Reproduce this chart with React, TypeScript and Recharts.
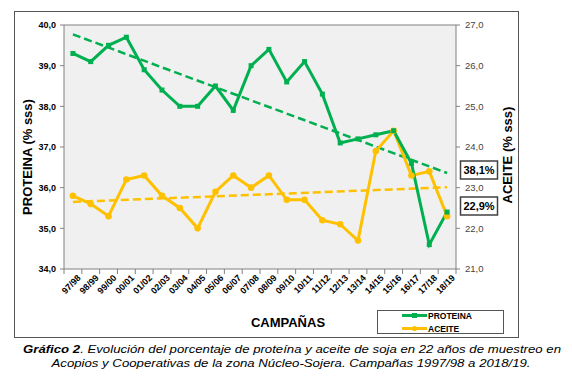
import React from 'react';
import { LineChart, Line, XAxis, YAxis, CartesianGrid, ReferenceLine } from 'recharts';

const campanias = [
  '97/98', '98/99', '99/00', '00/01', '01/02', '02/03', '03/04', '04/05', '05/06', '06/07', '07/08',
  '08/09', '09/10', '10/11', '11/12', '12/13', '13/14', '14/15', '15/16', '16/17', '17/18', '18/19',
];
const proteina = [
  39.3, 39.1, 39.5, 39.7, 38.9, 38.4, 38.0, 38.0, 38.5, 37.9, 39.0,
  39.4, 38.6, 39.1, 38.3, 37.1, 37.2, 37.3, 37.4, 36.6, 34.6, 35.4,
];
const aceite = [
  22.8, 22.6, 22.3, 23.2, 23.3, 22.8, 22.5, 22.0, 22.9, 23.3, 23.0,
  23.3, 22.7, 22.7, 22.2, 22.1, 21.7, 23.9, 24.4, 23.3, 23.4, 22.3,
];
// trend lines: value at first and last campaign
const tendenciaProteina = [39.77, 36.36];
const tendenciaAceite = [22.65, 23.01];
const ticksProteina = [34, 35, 36, 37, 38, 39, 40];
const ticksAceite = [21, 22, 23, 24, 25, 26, 27];

const VERDE = '#00b050';
const AMARILLO = '#ffc000';
const GRIS = '#808080';
const FONT = '"Liberation Sans", Arial, sans-serif';
const HALF = 392 / 22 / 2;

const last = campanias.length - 1;
const data = campanias.map((c, i) => ({
  campania: c,
  proteina: proteina[i],
  aceite: aceite[i],
  tendP: i === 0 ? tendenciaProteina[0] : i === last ? tendenciaProteina[1] : null,
  tendA: i === 0 ? tendenciaAceite[0] : i === last ? tendenciaAceite[1] : null,
}));

const fmt = (v: number) => v.toFixed(1).replace('.', ',');

const XTick = (props: any) => {
  const { x, y, payload, index } = props;
  const y0 = y - 7;
  const tx = x + 4;
  const ty = y - 2;
  return (
    <g>
      <line x1={x - HALF} x2={x - HALF} y1={y0} y2={y0 + 5} stroke={GRIS} />
      {index === last && <line x1={x + HALF} x2={x + HALF} y1={y0} y2={y0 + 5} stroke={GRIS} />}
      <text
        x={tx}
        y={ty}
        transform={`rotate(-45, ${tx}, ${ty})`}
        textAnchor="end"
        dy="0.71em"
        fontSize={9}
        fontWeight="bold"
        fontFamily={FONT}
        fill="#000"
      >
        {payload.value}
      </text>
    </g>
  );
};

const SquareDot = (props: any) => {
  const { cx, cy } = props;
  if (cx == null || cy == null) return null;
  return <rect x={cx - 2.5} y={cy - 2.5} width={5} height={5} fill={VERDE} />;
};

const RoundDot = (props: any) => {
  const { cx, cy } = props;
  if (cx == null || cy == null) return null;
  return <circle cx={cx} cy={cy} r={3.3} fill={AMARILLO} />;
};

export default function App() {
  return (
    <div style={{ position: 'absolute', left: 0, top: 0, width: 572, height: 380, background: '#fff', fontFamily: FONT }}>
      <LineChart width={572} height={380} data={data} margin={{ top: 25, right: 0, left: 0, bottom: 71 }}>
        <CartesianGrid horizontal={false} vertical={false} fill="#f0f0f0" />
        <XAxis
          dataKey="campania"
          height={40}
          interval={0}
          padding={{ left: HALF, right: HALF }}
          tickLine={false}
          tickSize={5}
          tickMargin={2}
          axisLine={{ stroke: GRIS }}
          tick={<XTick />}
        />
        <YAxis
          yAxisId="left"
          width={64}
          domain={[34, 40]}
          ticks={ticksProteina}
          tickFormatter={fmt}
          tickSize={4}
          tickMargin={4}
          tickLine={{ stroke: GRIS }}
          axisLine={{ stroke: GRIS }}
          tick={{ fontSize: 9, fontWeight: 'bold', fill: '#000', fontFamily: FONT }}
        />
        <YAxis
          yAxisId="right"
          orientation="right"
          width={116}
          domain={[21, 27]}
          ticks={ticksAceite}
          tickFormatter={fmt}
          tickSize={4}
          tickMargin={5}
          tickLine={{ stroke: GRIS }}
          axisLine={{ stroke: GRIS }}
          tick={{ fontSize: 9.5, fill: '#444', fontFamily: FONT }}
        />
        <ReferenceLine yAxisId="left" y={40} stroke={GRIS} />
        <Line
          yAxisId="left"
          dataKey="tendP"
          stroke={VERDE}
          strokeWidth={2.5}
          strokeDasharray="8 4"
          dot={false}
          connectNulls
          isAnimationActive={false}
        />
        <Line
          yAxisId="right"
          dataKey="tendA"
          stroke={AMARILLO}
          strokeWidth={2.5}
          strokeDasharray="8 4"
          dot={false}
          connectNulls
          isAnimationActive={false}
        />
        <Line
          yAxisId="right"
          dataKey="aceite"
          stroke={AMARILLO}
          strokeWidth={3}
          dot={<RoundDot />}
          isAnimationActive={false}
        />
        <Line
          yAxisId="left"
          dataKey="proteina"
          stroke={VERDE}
          strokeWidth={3}
          dot={<SquareDot />}
          isAnimationActive={false}
        />
      </LineChart>
      <svg width={572} height={380} style={{ position: 'absolute', left: 0, top: 0, pointerEvents: 'none' }}>
        <rect x={14.5} y={11.5} width={504} height={326} fill="none" stroke="#555" />
        <text
          x={32}
          y={157}
          transform="rotate(-90, 32, 157)"
          textAnchor="middle"
          fontSize={13}
          fontWeight="bold"
          fontFamily={FONT}
        >
          PROTEINA (% sss)
        </text>
        <text
          x={512}
          y={155}
          transform="rotate(-90, 512, 155)"
          textAnchor="middle"
          fontSize={13}
          fontWeight="bold"
          fontFamily={FONT}
        >
          ACEITE (% sss)
        </text>
        <rect x={460.5} y={161} width={37} height={18} fill="#fff" stroke="#404040" strokeWidth={1.5} />
        <text x={479} y={174} textAnchor="middle" fontSize={11} fontWeight="bold" fontFamily={FONT}>
          38,1%
        </text>
        <rect x={460.5} y={197} width={37} height={18} fill="#fff" stroke="#404040" strokeWidth={1.5} />
        <text x={479} y={210} textAnchor="middle" fontSize={11} fontWeight="bold" fontFamily={FONT}>
          22,9%
        </text>
        <text x={288} y={327} textAnchor="middle" fontSize={13} fontWeight="bold" fontFamily={FONT}>
          CAMPAÑAS
        </text>
        <rect x={377.5} y={310.5} width={126} height={23} fill="#fff" stroke="#555" />
        <line x1={402} x2={427} y1={315.5} y2={315.5} stroke={VERDE} strokeWidth={3} />
        <rect x={412} y={313} width={5} height={5} fill={VERDE} />
        <text x={428} y={319} fontSize={8.5} fontWeight="bold" fontFamily={FONT}>
          PROTEINA
        </text>
        <line x1={402} x2={427} y1={328.5} y2={328.5} stroke={AMARILLO} strokeWidth={3} />
        <circle cx={414.5} cy={328.5} r={2.6} fill={AMARILLO} />
        <text x={428} y={332} fontSize={8.5} fontWeight="bold" fontFamily={FONT}>
          ACEITE
        </text>
        <text
          x={292}
          y={353}
          textAnchor="middle"
          fontSize={11.5}
          fontStyle="italic"
          fontFamily={FONT}
          textLength={538}
          lengthAdjust="spacingAndGlyphs"
        >
          <tspan fontWeight="bold">Gráfico 2</tspan>. Evolución del porcentaje de proteína y aceite de soja en 22 años de muestreo en
        </text>
        <text
          x={291}
          y={366.5}
          textAnchor="middle"
          fontSize={11.5}
          fontStyle="italic"
          fontFamily={FONT}
          textLength={479}
          lengthAdjust="spacingAndGlyphs"
        >
          Acopios y Cooperativas de la zona Núcleo-Sojera. Campañas 1997/98 a 2018/19.
        </text>
      </svg>
    </div>
  );
}
